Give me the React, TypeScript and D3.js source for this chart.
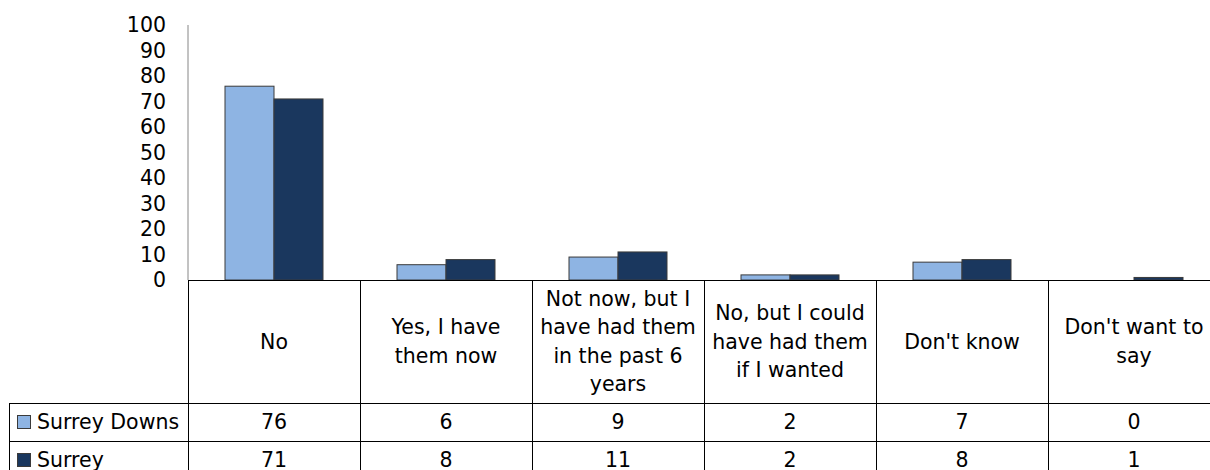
import React from "react";
import * as d3 from "d3";

const categories = [
  ["No"],
  ["Yes, I have", "them now"],
  ["Not now, but I", "have had them", "in the past 6", "years"],
  ["No, but I could", "have had them", "if I wanted"],
  ["Don't know"],
  ["Don't want to", "say"],
];
const seriesNames = ["Surrey Downs", "Surrey"];
const surreyDowns = [76, 6, 9, 2, 7, 0];
const surrey = [71, 8, 11, 2, 8, 1];
const yTicks = [0, 10, 20, 30, 40, 50, 60, 70, 80, 90, 100];
const colors = ["#8EB4E3", "#1A375E"];

export default function App() {
  const W = 1210, H = 470;
  const left = 188, right = 1220, top = 25, zero = 280;
  const headerBottom = 403, row1Bottom = 441, row2Bottom = 479;
  const tableLeft = 9;
  const font = "'DejaVu Sans', sans-serif";
  const fs = 20.5;
  const lh = 28.5;

  const ids = categories.map((_, i) => String(i));
  const x0 = d3.scaleBand<string>().domain(ids).range([left, right]).padding(0);
  const bw = x0.bandwidth();
  const groupW = 98;
  const x1 = d3.scaleBand<string>().domain(seriesNames).range([(bw - groupW) / 2, (bw + groupW) / 2]).padding(0);
  const y = d3.scaleLinear().domain([0, 100]).range([zero, top]);
  const series = [surreyDowns, surrey];

  const headerMid = (zero + headerBottom) / 2;
  const rowMids = [(headerBottom + row1Bottom) / 2, (row1Bottom + row2Bottom) / 2];

  return (
    <div style={{ position: "fixed", left: 0, top: 0 }}>
      <svg width={W} height={H} style={{ display: "block", background: "#fff" }} fontFamily={font}>
        {yTicks.map((t) => (
          <text key={t} x={166} y={y(t)} dy="0.35em" textAnchor="end" fontSize={fs} fill="#000">
            {t}
          </text>
        ))}
        <line x1={left} x2={left} y1={top} y2={zero} stroke="#868686" strokeWidth={1} />
        {series.map((vals, si) =>
          vals.map((v, ci) => {
            const xx = (x0(String(ci)) as number) + (x1(seriesNames[si]) as number);
            return (
              <rect
                key={si + "-" + ci}
                x={xx}
                y={y(v)}
                width={x1.bandwidth()}
                height={zero - y(v)}
                fill={colors[si]}
                stroke="#3a3a3a"
                strokeWidth={1}
              />
            );
          })
        )}
        <g stroke="#000" strokeWidth={1} shapeRendering="crispEdges">
          <line x1={left} x2={right} y1={zero} y2={zero} />
          <line x1={left} x2={left} y1={zero} y2={row2Bottom} />
          {ids.map((id) => (
            <line key={id} x1={(x0(id) as number) + bw} x2={(x0(id) as number) + bw} y1={zero} y2={row2Bottom} />
          ))}
          <line x1={tableLeft} x2={right} y1={headerBottom} y2={headerBottom} />
          <line x1={tableLeft} x2={right} y1={row1Bottom} y2={row1Bottom} />
          <line x1={tableLeft} x2={tableLeft} y1={headerBottom} y2={row2Bottom} />
        </g>
        {categories.map((lines, i) => {
          const cx = (x0(String(i)) as number) + bw / 2;
          const startY = headerMid - ((lines.length - 1) * lh) / 2;
          return (
            <text key={i} textAnchor="middle" fontSize={fs} fill="#000">
              {lines.map((ln, k) => (
                <tspan key={k} x={cx} y={startY + k * lh} dy="0.35em">
                  {ln}
                </tspan>
              ))}
            </text>
          );
        })}
        {series.map((vals, si) => (
          <g key={si}>
            <rect x={17.5} y={rowMids[si] - 6.5} width={13} height={13} fill={colors[si]} stroke="#3a3a3a" strokeWidth={1} />
            <text x={37} y={rowMids[si]} dy="0.35em" fontSize={fs} fill="#000">
              {seriesNames[si]}
            </text>
            {vals.map((v, ci) => (
              <text
                key={ci}
                x={(x0(String(ci)) as number) + bw / 2}
                y={rowMids[si]}
                dy="0.35em"
                textAnchor="middle"
                fontSize={fs}
                fill="#000"
              >
                {v}
              </text>
            ))}
          </g>
        ))}
      </svg>
    </div>
  );
}
